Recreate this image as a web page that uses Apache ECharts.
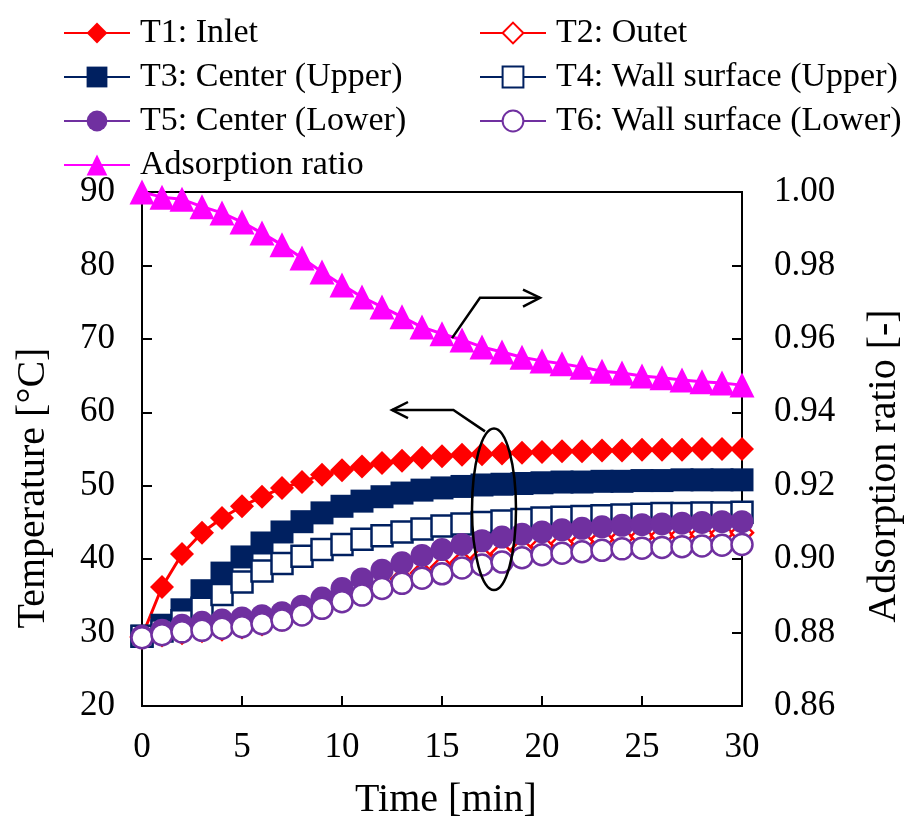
<!DOCTYPE html>
<html>
<head>
<meta charset="utf-8">
<script src="https://cdn.jsdelivr.net/npm/echarts@6/dist/echarts.min.js"></script>
<style>html,body{margin:0;padding:0;background:#fff}#c{width:912px;height:822px}</style>
</head>
<body>
<div id="c"></div>
<script>
const times = [0,1,2,3,4,5,6,7,8,9,10,11,12,13,14,15,16,17,18,19,20,21,22,23,24,25,26,27,28,29,30];
const T1 = [29.5,36.2,40.7,43.6,45.6,47.2,48.5,49.7,50.5,51.5,52.1,52.6,53.1,53.4,53.8,54.0,54.2,54.3,54.4,54.5,54.6,54.7,54.7,54.8,54.8,54.9,54.9,54.9,55.0,55.0,55.0];
const T2 = [29.4,29.7,30.0,30.3,30.5,30.8,31.2,31.8,32.6,33.5,34.5,35.5,36.4,37.3,38.1,38.9,39.6,40.2,40.8,41.3,41.8,42.1,42.4,42.7,42.9,43.1,43.2,43.3,43.4,43.5,43.6];
const T3 = [29.5,31.0,33.1,35.7,38.1,40.3,42.2,43.7,45.1,46.3,47.2,47.9,48.5,49.0,49.4,49.7,49.9,50.1,50.2,50.3,50.4,50.5,50.5,50.6,50.6,50.7,50.7,50.8,50.8,50.8,50.8];
const T4 = [29.5,30.2,31.6,33.3,35.2,36.9,38.4,39.4,40.4,41.3,42.0,42.7,43.2,43.7,44.1,44.5,44.8,45.0,45.2,45.4,45.6,45.7,45.8,45.9,46.0,46.1,46.2,46.2,46.3,46.3,46.4];
const T5 = [29.5,30.3,31.0,31.4,31.7,32.0,32.3,32.7,33.6,34.7,36.0,37.3,38.5,39.5,40.5,41.3,42.0,42.5,43.0,43.4,43.7,44.0,44.2,44.4,44.6,44.7,44.8,44.9,45.0,45.1,45.1];
const T6 = [29.3,29.7,30.1,30.3,30.6,30.8,31.2,31.7,32.4,33.3,34.2,35.1,36.0,36.7,37.4,38.0,38.8,39.2,39.6,40.2,40.6,40.8,41.0,41.2,41.4,41.5,41.6,41.7,41.8,41.9,42.0];
const ratio = [1.000,0.9986,0.998,0.996,0.9943,0.9918,0.9888,0.9856,0.982,0.9782,0.9747,0.9714,0.9687,0.966,0.9632,0.9614,0.9597,0.9578,0.9564,0.955,0.954,0.9532,0.9523,0.9512,0.9507,0.9499,0.9494,0.9488,0.9483,0.948,0.9474];
const names = ['T1: Inlet','T2: Outet','T3: Center (Upper)','T4: Wall surface (Upper)','T5: Center (Lower)','T6: Wall surface (Lower)','Adsorption ratio'];
const xTicks = [0,5,10,15,20,25,30];
const leftTicks = [20,30,40,50,60,70,80,90];
const rightTicks = [0.86,0.88,0.90,0.92,0.94,0.96,0.98,1.00];
const xTitle = 'Time [min]';
const yLeftTitle = 'Temperature [°C]';
const yRightTitle = 'Adsorption ratio [-]';

const FONT = 'Liberation Serif';
const RED = '#FF0000', NAVY = '#002060', PURPLE = '#7030A0', MAG = '#FF00FF';
const pairs = arr => times.map((t,i)=>[t,arr[i]]);

function ser(name, data, color, symbol, size, open, yIdx){
  return {
    name, type:'line', data:pairs(data), yAxisIndex: yIdx||0,
    symbol, symbolSize: size, showAllSymbol:true,
    lineStyle:{color, width:3},
    itemStyle: open ? {color:'#fff', borderColor:color, borderWidth:2.5} : {color, borderColor:color, borderWidth:0},
    emphasis:{disabled:true}, animation:false
  };
}

const chart = echarts.init(document.getElementById('c'));
const legendText = {fontFamily:FONT, fontSize:34, color:'#000', lineHeight:40, padding:[0,0,0,5]};
chart.setOption({
  animation:false,
  backgroundColor:'#fff',
  grid:{left:142, right:170, top:192, bottom:116, show:true, borderColor:'#000', borderWidth:2, backgroundColor:'transparent'},
  legend:[
    {orient:'vertical', left:58, top:8, itemWidth:66, itemHeight:26, itemGap:4, data:[names[0],names[2],names[4],names[6]], textStyle:legendText, selectedMode:false},
    {orient:'vertical', left:474, top:8, itemWidth:66, itemHeight:26, itemGap:4, data:[names[1],names[3],names[5]], textStyle:legendText, selectedMode:false}
  ],
  xAxis:{type:'value', min:0, max:30, interval:5,
    axisLine:{lineStyle:{color:'#000', width:2}},
    axisTick:{inside:true, length:10, lineStyle:{color:'#000', width:2}},
    axisLabel:{fontFamily:FONT, fontSize:35, color:'#000', margin:24, formatter:v=>xTicks.includes(v)?String(v):''},
    splitLine:{show:false}},
  yAxis:[
    {type:'value', min:20, max:90, interval:10, position:'left',
     axisLine:{show:true, lineStyle:{color:'#000', width:2}},
     axisTick:{show:true, inside:true, length:10, lineStyle:{color:'#000', width:2}},
     axisLabel:{fontFamily:FONT, fontSize:35, color:'#000', margin:27, formatter:v=>leftTicks.includes(v)?String(v):''},
     splitLine:{show:false}},
    {type:'value', min:0.86, max:1.00, interval:0.02, position:'right',
     axisLine:{show:true, lineStyle:{color:'#000', width:2}},
     axisTick:{show:true, inside:true, length:10, lineStyle:{color:'#000', width:2}},
     axisLabel:{fontFamily:FONT, fontSize:35, color:'#000', margin:32, formatter:v=>v.toFixed(2)},
     splitLine:{show:false}}
  ],
  series:[
    ser(names[0], T1, RED, 'diamond', 24, false),
    ser(names[1], T2, RED, 'diamond', 22, true),
    ser(names[2], T3, NAVY, 'rect', 23, false),
    ser(names[3], T4, NAVY, 'rect', 21, true),
    ser(names[4], T5, PURPLE, 'circle', 23, false),
    ser(names[5], T6, PURPLE, 'circle', 21, true),
    ser(names[6], ratio, MAG, 'triangle', 25, false, 1)
  ]
});

// annotations (data coordinates on time / temperature axes)
const arrowRight = [[15.5,70.1],[16.9,75.6],[19.9,75.6]];
const arrowRightHead = [[19.05,76.7],[19.9,75.6],[19.05,74.4]];
const arrowLeft = [[17.15,57.4],[15.57,60.3],[12.5,60.3]];
const arrowLeftHead = [[13.3,61.4],[12.5,60.3],[13.3,59.2]];
const ellipse = {cx:17.6, cy:46.8, rx:1.1, ry:11.0};

const px = p => chart.convertToPixel({gridIndex:0}, p);
const c = px([ellipse.cx, ellipse.cy]);
const e1 = px([ellipse.cx+ellipse.rx, ellipse.cy+ellipse.ry]);
const ls = {stroke:'#000', lineWidth:2.5, fill:null};
const titleStyle = (text)=>({text, font:'40px "Liberation Serif"', fill:'#000', align:'center', verticalAlign:'middle', textAlign:'center', textVerticalAlign:'middle'});
chart.setOption({graphic:[
  {type:'polyline', shape:{points:arrowRight.map(px)}, style:ls, z:100},
  {type:'polyline', shape:{points:arrowRightHead.map(px)}, style:ls, z:100},
  {type:'polyline', shape:{points:arrowLeft.map(px)}, style:ls, z:100},
  {type:'polyline', shape:{points:arrowLeftHead.map(px)}, style:ls, z:100},
  {type:'ellipse', shape:{cx:c[0], cy:c[1], rx:Math.abs(e1[0]-c[0]), ry:Math.abs(c[1]-e1[1])}, style:{stroke:'#000', lineWidth:2.5, fill:'transparent'}, z:100},
  {type:'text', x:446, y:800, style:titleStyle(xTitle), z:100},
  {type:'text', x:33, y:488, rotation:Math.PI/2, style:titleStyle(yLeftTitle), z:100},
  {type:'text', x:884, y:466, rotation:Math.PI/2, style:titleStyle(yRightTitle), z:100}
]});
</script>
</body>
</html>
